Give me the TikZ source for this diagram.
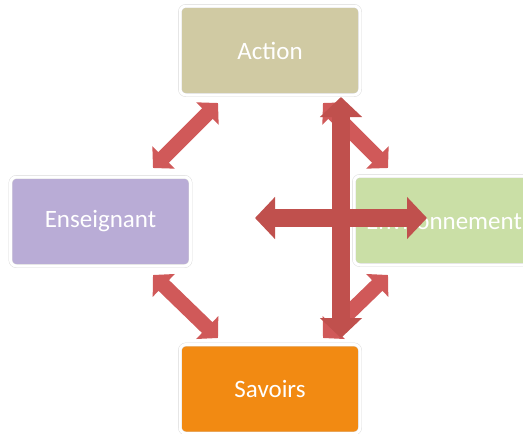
\documentclass[tikz,border=0pt]{standalone}
\usepackage{fontspec}
\setmainfont{Carlito}
\usetikzlibrary{arrows.meta}

\definecolor{actioncol}{HTML}{D0CAA3}
\definecolor{enscol}{HTML}{B9ACD6}
\definecolor{envcol}{HTML}{CADFA6}
\definecolor{savcol}{HTML}{F28A12}
\definecolor{arrowcol}{HTML}{C0504D}
\definecolor{diagcol}{HTML}{D05959}

\tikzset{
    box/.style={rectangle, rounded corners=6pt, minimum width=180pt, minimum height=89pt,
        draw=gray!30, double=white, double distance=3pt, line width=0.4pt,
        text=white, font=\fontsize{25}{28}\selectfont, inner sep=0pt},
    diagarrow/.style={draw=diagcol, line width=15pt,
        {Triangle[length=15pt,width=31pt]}-{Triangle[length=15pt,width=31pt]}},
    bigarrow/.style={draw=arrowcol, line width=18pt,
        {Triangle[length=20pt,width=41pt]}-{Triangle[length=20pt,width=41pt]}}
}

\begin{document}
\begin{tikzpicture}[x=1pt, y=-1pt]
    \clip (0,0) rectangle (523,434);
    \fill[white] (0,0) rectangle (523,434);

    % free ends of the arrows
    \coordinate (tl1) at (218,103);
    \coordinate (tl2) at (153,168);
    \coordinate (tr1) at (323,103);
    \coordinate (tr2) at (388,168);
    \coordinate (bl1) at (153,275);
    \coordinate (bl2) at (218,338);
    \coordinate (br1) at (388,275);
    \coordinate (br2) at (323,338);
    \coordinate (vtop) at (341,97);
    \coordinate (vbot) at (341,338);
    \coordinate (hleft) at (255,218);
    \coordinate (hright) at (427,218);

    % diagonal arrows
    \draw[diagarrow] (tl1) -- (tl2);
    \draw[diagarrow] (tr1) -- (tr2);
    \draw[diagarrow] (bl1) -- (bl2);
    \draw[diagarrow] (br1) -- (br2);

    % boxes
    \node[box, fill=actioncol] (action) at (270,50.5) {Action};
    \node[box, fill=enscol] (enseignant) at (100.5,221.5) {Enseignant};
    \node[box, fill=envcol] (environnement) at (444,220.5) {Environnement};
    \node[box, fill=savcol] (savoirs) at (270,389) {Savoirs};

    % big cross
    \draw[bigarrow] (hleft) -- (hright);
    \draw[bigarrow] (vtop) -- (vbot);
\end{tikzpicture}
\end{document}
